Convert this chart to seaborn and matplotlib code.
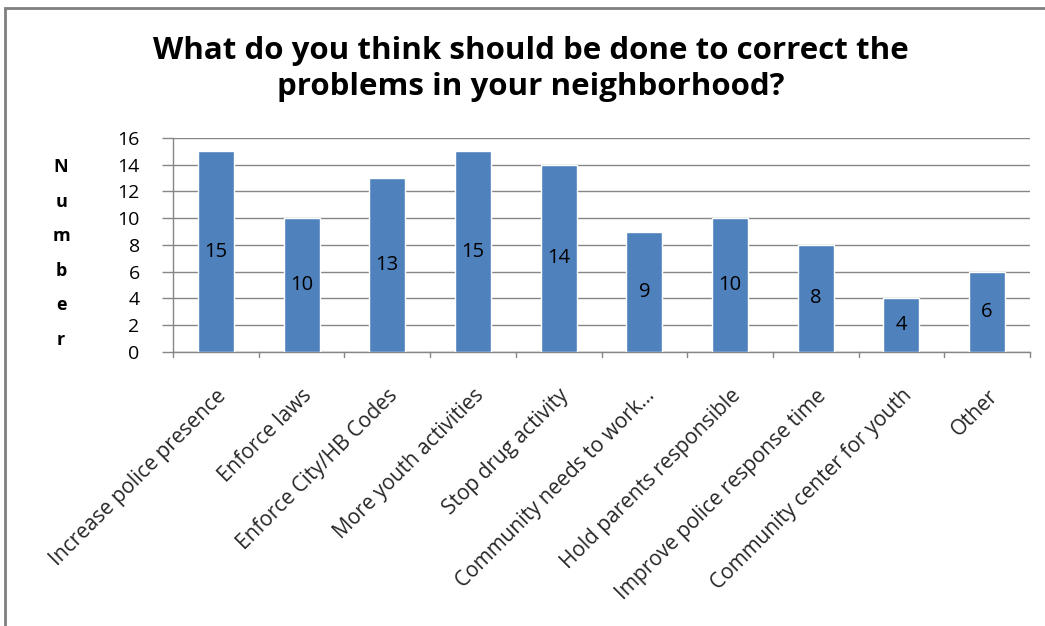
import matplotlib
matplotlib.use("Agg")
import matplotlib.pyplot as plt
import seaborn as sns
import pandas as pd
from matplotlib.patches import Rectangle

categories = [
    "Increase police presence",
    "Enforce laws",
    "Enforce City/HB Codes",
    "More youth activities",
    "Stop drug activity",
    "Community needs to work...",
    "Hold parents responsible",
    "Improve police response time",
    "Community center for youth",
    "Other",
]
counts = [15, 10, 13, 15, 14, 9, 10, 8, 4, 6]
y_ticks = [0, 2, 4, 6, 8, 10, 12, 14, 16]
title = "What do you think should be done to correct the\nproblems in your neighborhood?"
y_label = "Number"

df = pd.DataFrame({"category": categories, "count": counts})

sns.set_theme(style="white")
plt.rcParams["font.family"] = ["Open Sans", "DejaVu Sans"]

fig = plt.figure(figsize=(10.45, 6.26), dpi=100)
ax = fig.add_axes([0.1656, 0.4377, 0.8200, 0.3419])

bar_color = "#4F81BD"
sns.barplot(data=df, x="category", y="count", color=bar_color, width=0.42,
            saturation=1, ax=ax, zorder=3)

ax.set_ylim(0, 16)
ax.set_xlim(-0.5, len(categories) - 0.5)
ax.set_yticks(y_ticks)
ax.set_yticklabels([str(v) for v in y_ticks], fontsize=14, color="#000000")
ax.yaxis.grid(True, color="#868686", linewidth=1.0, zorder=0)
ax.xaxis.grid(False)
ax.set_xlabel("")
ax.set_ylabel("")

# value labels centred inside each bar
for i, v in enumerate(counts):
    ax.text(i, v / 2, str(v), ha="center", va="center", fontsize=14.5, color="#000000", zorder=4)

# category labels rotated along the baseline
ax.set_xticks(range(len(categories)))
ax.set_xticklabels(categories, rotation=45, ha="right", rotation_mode="anchor", fontsize=15)
ax.tick_params(axis="x", length=0, pad=24)
ax.tick_params(axis="y", length=8, width=1, color="#868686", direction="out", left=True, pad=16)

# small boundary ticks between categories on the x axis
for b in [i - 0.5 for i in range(len(categories) + 1)]:
    ax.plot([b, b], [0, -0.35], color="#868686", linewidth=1, clip_on=False, zorder=2)

for side in ["top", "right"]:
    ax.spines[side].set_visible(False)
ax.spines["left"].set_color("#868686")
ax.spines["bottom"].set_color("#868686")
ax.spines["left"].set_linewidth(1)
ax.spines["bottom"].set_linewidth(1)

# title
fig.text(0.508, 1 - 69 / 626, title, ha="center", va="center", fontsize=22.5, fontweight="bold",
         linespacing=1.3, color="#000000")

# stacked vertical axis title
for k, ch in enumerate(y_label):
    fig.text(0.0585, 1 - (167 + k * 34.6) / 626, ch, ha="center", va="center",
             fontsize=13, fontweight="bold", color="#000000")

# chart frame
fig.add_artist(Rectangle((5 / 1045, -0.1), 1.2, 1 - 8 / 626 + 0.1, transform=fig.transFigure,
                         fill=False, edgecolor="#7f7f7f", linewidth=2))

fig.savefig("out.png", dpi=100, facecolor="white")
